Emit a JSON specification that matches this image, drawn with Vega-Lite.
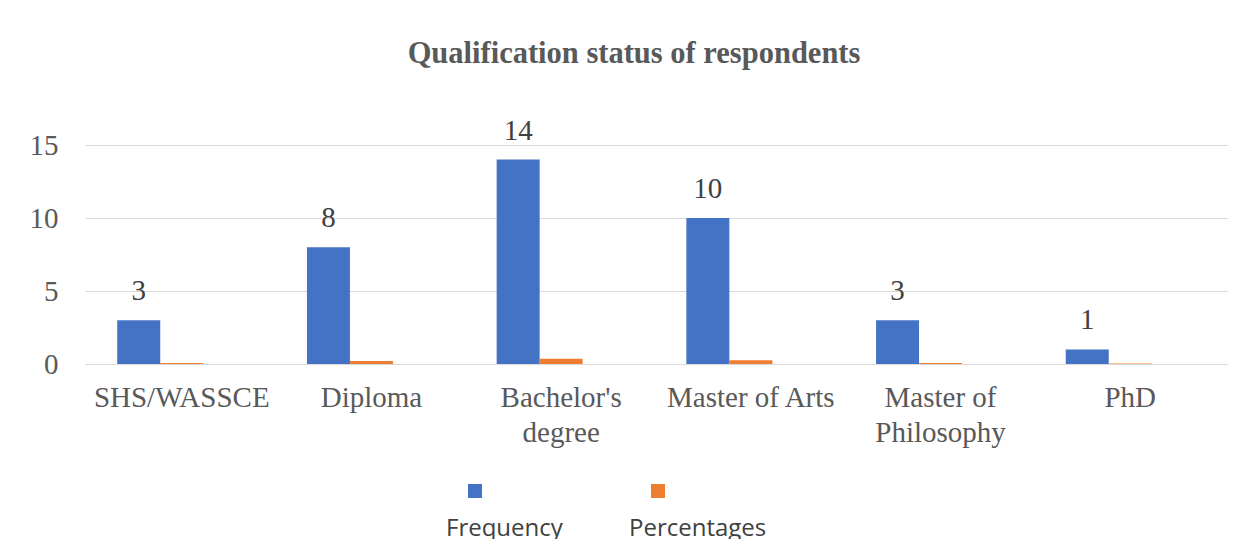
{
  "$schema": "https://vega.github.io/schema/vega-lite/v6.json",
  "width": 1142,
  "height": 219,
  "autosize": "none",
  "padding": {"left": 85, "top": 145, "right": 16, "bottom": 175},
  "background": "white",
  "title": {
    "text": "Qualification status of respondents",
    "font": "Liberation Serif",
    "fontSize": 30.5,
    "fontWeight": "bold",
    "color": "#595959",
    "anchor": "middle",
    "frame": "group",
    "dx": -22,
    "offset": 23,
    "baseline": "alphabetic"
  },
  "data": {
    "values": [
      {"qualification": "SHS/WASSCE", "series": "Frequency", "value": 3},
      {"qualification": "SHS/WASSCE", "series": "Percentages", "value": 0.077},
      {"qualification": "Diploma", "series": "Frequency", "value": 8},
      {"qualification": "Diploma", "series": "Percentages", "value": 0.205},
      {"qualification": "Bachelor's degree", "series": "Frequency", "value": 14},
      {"qualification": "Bachelor's degree", "series": "Percentages", "value": 0.359},
      {"qualification": "Master of Arts", "series": "Frequency", "value": 10},
      {"qualification": "Master of Arts", "series": "Percentages", "value": 0.256},
      {"qualification": "Master of Philosophy", "series": "Frequency", "value": 3},
      {"qualification": "Master of Philosophy", "series": "Percentages", "value": 0.077},
      {"qualification": "PhD", "series": "Frequency", "value": 1},
      {"qualification": "PhD", "series": "Percentages", "value": 0.026}
    ]
  },
  "encoding": {
    "x": {
      "field": "qualification",
      "type": "nominal",
      "sort": null,
      "scale": {"paddingInner": 0.32, "paddingOuter": 0.17},
      "axis": {
        "title": null,
        "domain": true,
        "domainColor": "#d9d9d9",
        "ticks": false,
        "grid": false,
        "labelAngle": 0,
        "labelFont": "Liberation Serif",
        "labelFontSize": 29,
        "labelColor": "#595959",
        "labelPadding": 19,
        "labelBaseline": "top",
        "labelLineHeight": 35,
        "labelLimit": 0,
        "labelExpr": "datum.value == \"Bachelor's degree\" ? [\"Bachelor's\", 'degree'] : datum.value == 'Master of Philosophy' ? ['Master of', 'Philosophy'] : datum.value"
      }
    },
    "xOffset": {
      "field": "series",
      "scale": {"domain": ["Frequency", "Percentages", "pad"], "paddingInner": 0, "paddingOuter": 0}
    },
    "y": {
      "field": "value",
      "type": "quantitative",
      "scale": {"domain": [0, 15], "nice": false},
      "axis": {
        "title": null,
        "values": [0, 5, 10, 15],
        "domain": false,
        "ticks": false,
        "grid": true,
        "gridColor": "#d9d9d9",
        "gridWidth": 1,
        "labelFont": "Liberation Serif",
        "labelFontSize": 29,
        "labelColor": "#595959",
        "labelPadding": 27
      }
    }
  },
  "layer": [
    {
      "mark": {"type": "bar"},
      "encoding": {
        "color": {
          "field": "series",
          "type": "nominal",
          "scale": {"domain": ["Frequency", "Percentages"], "range": ["#4472C4", "#ED7D31"]},
          "legend": {
            "orient": "none",
            "legendX": 378,
            "legendY": 334,
            "direction": "horizontal",
            "title": null,
            "symbolType": "square",
            "symbolSize": 196,
            "symbolStrokeWidth": 0,
            "symbolOpacity": 1,
            "labelFont": "Open Sans",
            "labelFontSize": 24,
            "labelColor": "#404040",
            "labelOffset": -41,
            "labelBaseline": "top",
            "labelExpr": "['', datum.label]",
            "columnPadding": 66
          }
        }
      }
    },
    {
      "transform": [{"filter": "datum.series == 'Frequency'"}],
      "mark": {
        "type": "text",
        "baseline": "alphabetic",
        "dy": -20,
        "font": "Liberation Serif",
        "fontSize": 29,
        "color": "#404040"
      },
      "encoding": {"text": {"field": "value", "type": "quantitative"}}
    }
  ],
  "config": {"view": {"stroke": null}}
}
